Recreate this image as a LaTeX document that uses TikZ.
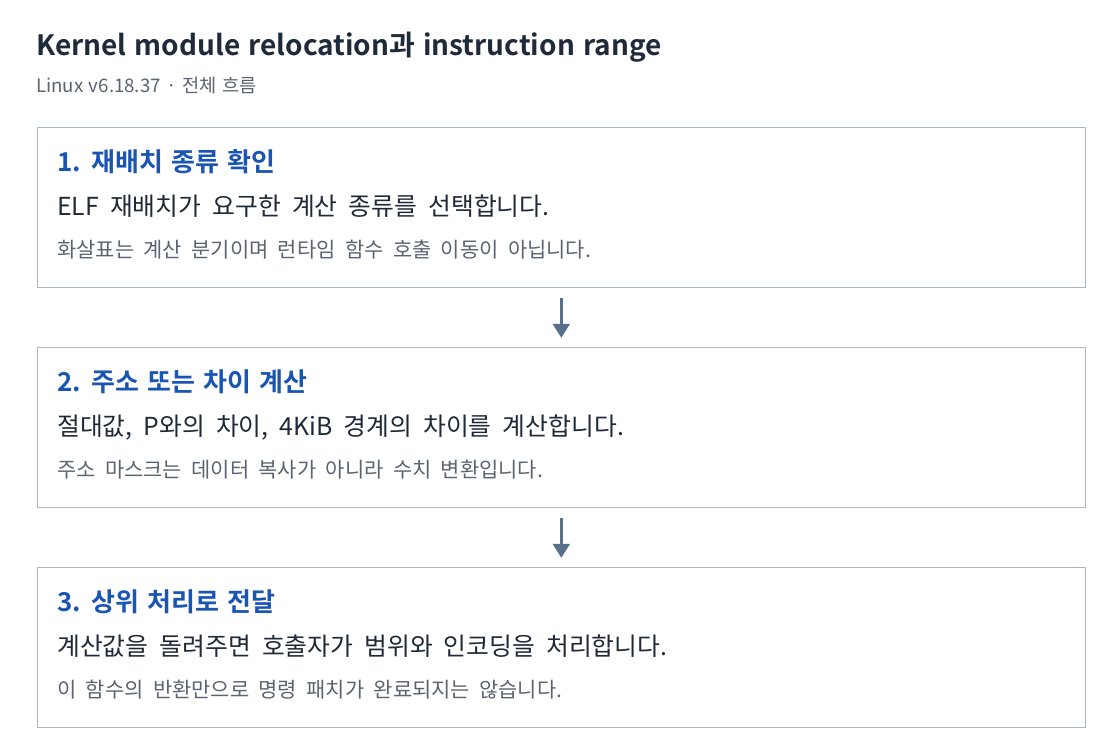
\documentclass[tikz,border=0pt]{standalone}
\usepackage{fontspec}
\setmainfont{Noto Sans CJK KR}[BoldFont={Noto Sans CJK KR Bold}]
\usetikzlibrary{arrows.meta}
\definecolor{titlec}{HTML}{1F2A3A}
\definecolor{subc}{HTML}{5B6472}
\definecolor{bluec}{HTML}{1B55B3}
\definecolor{bodyc}{HTML}{1F2937}
\definecolor{notec}{HTML}{5B6472}
\definecolor{borderc}{HTML}{AAB7C6}
\definecolor{arrowc}{HTML}{57708C}
\newcommand{\widesp}[1]{\spaceskip=#1\fontdimen2\font\relax}
\tikzset{
  stepbox/.style={draw=borderc, line width=1.2pt, fill=white, minimum width=786pt, minimum height=120pt, inner sep=0pt, anchor=north west},
  steptitle/.style={anchor=base west, inner sep=0pt, text=bluec, font=\fontsize{19.5}{22}\selectfont\bfseries\widesp{1.4}},
  stepbody/.style={anchor=base west, inner sep=0pt, text=bodyc, font=\fontsize{18.6}{21}\selectfont\widesp{2}},
  stepnote/.style={anchor=base west, inner sep=0pt, text=notec, font=\fontsize{15.7}{18}\selectfont\widesp{2}},
  flowarrow/.style={draw=arrowc, line width=2.3pt, -{Triangle[width=12.5pt,length=10.5pt]}, shorten <=7.5pt, shorten >=6.5pt}
}
\begin{document}
\begin{tikzpicture}[x=0.75pt,y=-0.75pt]
\useasboundingbox[fill=white] (0,0) rectangle (1120,754);
\node[anchor=base west, inner sep=0pt, text=titlec, font=\fontsize{21}{24}\selectfont\bfseries\widesp{1.3}] (title) at (36,55) {Kernel module relocation과 instruction range};
\node[anchor=base west, inner sep=0pt, text=subc, font=\fontsize{14}{17}\selectfont\widesp{1.3}] (sub) at (36,92) {Linux v6.18.37 · 전체 흐름};

\node[stepbox] (b1) at (36.5,126.5) {};
\node[stepbox] (b2) at (36.5,346.5) {};
\node[stepbox] (b3) at (36.5,566.5) {};

\node[steptitle] (t1) at (57,171) {1. 재배치 종류 확인};
\node[stepbody] (d1) at (57,215.5) {ELF 재배치가 요구한 계산 종류를 선택합니다.};
\node[stepnote] (n1) at (57,257) {화살표는 계산 분기이며 런타임 함수 호출 이동이 아닙니다.};

\node[steptitle] (t2) at (57,391) {2. 주소 또는 차이 계산};
\node[stepbody] (d2) at (57,435.5) {절대값, P와의 차이, 4KiB 경계의 차이를 계산합니다.};
\node[stepnote] (n2) at (57,477) {주소 마스크는 데이터 복사가 아니라 수치 변환입니다.};

\node[steptitle] (t3) at (57,611) {3. 상위 처리로 전달};
\node[stepbody] (d3) at (57,655.5) {계산값을 돌려주면 호출자가 범위와 인코딩을 처리합니다.};
\node[stepnote] (n3) at (57,697) {이 함수의 반환만으로 명령 패치가 완료되지는 않습니다.};

\draw[flowarrow] (b1.south) -- (b2.north);
\draw[flowarrow] (b2.south) -- (b3.north);
\end{tikzpicture}
\end{document}
